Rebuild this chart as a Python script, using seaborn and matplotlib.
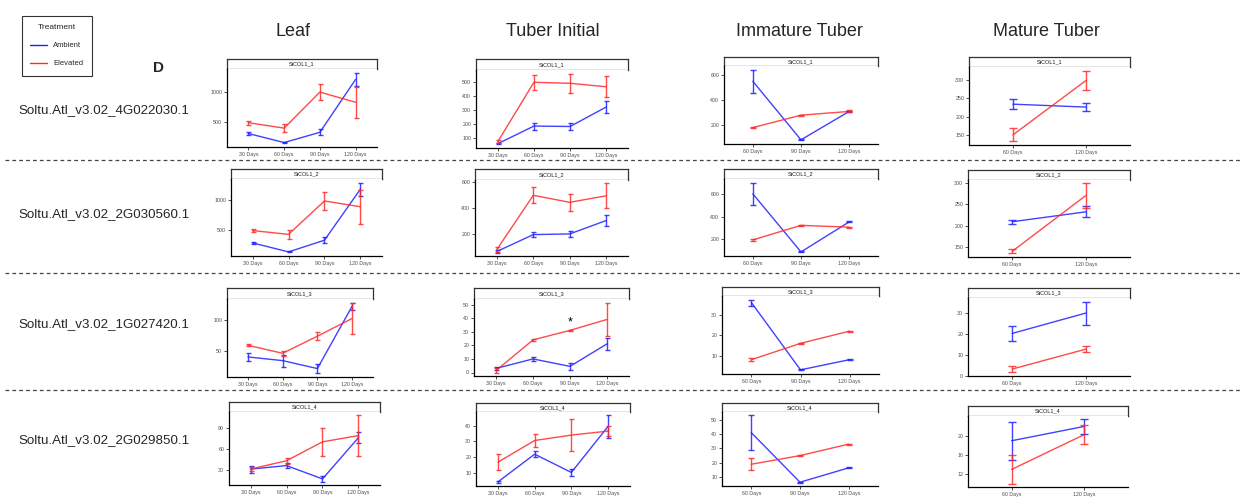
import numpy as np
import pandas as pd
import matplotlib.pyplot as plt
from matplotlib.lines import Line2D
import seaborn as sns

# ---- data -------------------------------------------------------------
tissues = ["Leaf", "Tuber Initial", "Immature Tuber", "Mature Tuber"]
genes = ["Soltu.Atl_v3.02_4G022030.1", "Soltu.Atl_v3.02_2G030560.1",
         "Soltu.Atl_v3.02_1G027420.1", "Soltu.Atl_v3.02_2G029850.1"]
strips = ["StCOL1_1", "StCOL1_2", "StCOL1_3", "StCOL1_4"]
treatments = ["Ambient", "Elevated"]

leaf_days = ["30 Days", "60 Days", "90 Days", "120 Days"]
leaf_amb = [[310, 160, 330, 1210], [285, 135, 330, 1180], [40, 34, 21, 123], [31, 36, 17, 76]]
leaf_amb_se = [[20, 15, 50, 115], [15, 10, 55, 110], [6, 10, 8, 6], [5, 4, 4, 8]]
leaf_elev = [[490, 400, 1000, 830], [490, 427, 983, 886], [59, 46, 74, 103], [31, 43, 70, 79]]
leaf_elev_se = [[30, 70, 140, 260], [25, 70, 150, 280], [1.5, 4, 7, 26], [3, 4, 20, 29]]
leaf_yticks = [[500, 1000], [500, 1000], [50, 100], [30, 60, 90]]

ti_days = ["30 Days", "60 Days", "90 Days", "120 Days"]
ti_amb = [[56, 183, 180, 320], [65, 195, 200, 303], [3, 10, 4.5, 21], [4.6, 22, 10.5, 39.4]]
ti_amb_se = [[5, 25, 25, 45], [8, 20, 25, 40], [1, 1.5, 2.5, 4.5], [0.5, 2, 2, 7]]
ti_elev = [[70, 497, 490, 465], [80, 497, 443, 493], [1.5, 24, 31, 39], [17, 30.6, 34, 36.5]]
ti_elev_se = [[12, 55, 70, 75], [18, 60, 65, 95], [1.5, 1, 0.5, 12.5], [5, 4, 10, 3]]
ti_yticks = [[100, 200, 300, 400, 500], [200, 400, 600], [0, 10, 20, 30, 40, 50], [10, 20, 30, 40]]

im_days = ["60 Days", "90 Days", "120 Days"]
im_amb = [[553, 81, 310], [600, 89, 353], [36, 3, 8], [41, 6.5, 16.5]]
im_amb_se = [[95, 5, 5], [100, 5, 5], [1.5, 0.3, 0.3], [12, 0.3, 0.3]]
im_elev = [[180, 280, 310], [195, 323, 307], [8, 16, 22], [19, 25, 33]]
im_elev_se = [[5, 5, 8], [8, 5, 5], [0.8, 0.3, 0.3], [4, 0.3, 0.3]]
im_yticks = [[200, 400, 600], [200, 400, 600], [10, 20, 30], [10, 20, 30, 40, 50]]

mt_days = ["60 Days", "120 Days"]
mt_amb = [[234, 226], [209, 232], [20.3, 30], [19, 22]]
mt_amb_se = [[13, 10], [5, 13], [3.5, 5.5], [4, 1.5]]
mt_elev = [[150, 299], [140, 270], [3.3, 12.8], [13, 20.3]]
mt_elev_se = [[18, 27], [5, 28], [1.5, 1.3], [3, 2]]
mt_yticks = [[150, 200, 250, 300], [150, 200, 250, 300], [0, 10, 20, 30], [12, 16, 20]]

# significance mark: (gene row, tissue col, day, y)
signif = [(2, 1, "90 Days", 37)]

tissue_data = [
    (leaf_days, leaf_amb, leaf_amb_se, leaf_elev, leaf_elev_se, leaf_yticks),
    (ti_days, ti_amb, ti_amb_se, ti_elev, ti_elev_se, ti_yticks),
    (im_days, im_amb, im_amb_se, im_elev, im_elev_se, im_yticks),
    (mt_days, mt_amb, mt_amb_se, mt_elev, mt_elev_se, mt_yticks),
]

# ---- layout (pixels: left, strip top, panel top, right, bottom) -------
W, H = 1243, 499
boxes = [
    [(227, 59, 69, 377, 147), (476, 59, 70, 628, 148), (724, 57, 66, 878, 144), (969, 57, 67, 1130, 145)],
    [(231, 169, 179, 382, 256), (475, 169, 180, 628, 256), (724, 169, 179, 878, 256), (968, 170, 180, 1130, 257)],
    [(227, 288, 299, 373, 377), (474, 288, 299, 629, 376), (722, 287, 296, 879, 374), (968, 288, 298, 1130, 376)],
    [(229, 402, 412, 380, 485), (476, 403, 412, 630, 486), (722, 403, 412, 878, 486), (968, 406, 416, 1128, 487)],
]
col_title_x = [293, 553, 799, 1046]
row_label_y = [110, 214, 324, 440]
sep_y = [160, 273, 390]

pal = {"Ambient": "#2020ff", "Elevated": "#ff2a2a"}

sns.set_theme(style="white")
plt.rcParams["font.family"] = ["Liberation Sans", "DejaVu Sans"]

fig = plt.figure(figsize=(W / 100, H / 100), dpi=100)


def px_axes(l, t, r, b):
    return fig.add_axes([l / W, 1 - b / H, (r - l) / W, (b - t) / H])


for gi in range(4):
    for ti in range(4):
        days, amb, amb_se, elev, elev_se, yticks = tissue_data[ti]
        l, st, t, r, b = boxes[gi][ti]
        n = len(days)
        spacing = (r - l) / (n + 0.2)
        cap = max(1.8, 0.06 * spacing * 0.72)

        # strip
        sax = px_axes(l, st, r, t)
        sax.set_xticks([]); sax.set_yticks([])
        sax.set_facecolor("white")
        for s in sax.spines.values():
            s.set_color("#333333"); s.set_linewidth(0.9); s.set_visible(True)
        sax.text(0.5, 0.5, strips[gi], ha="center", va="center", fontsize=4, color="#1a1a1a")

        ax = px_axes(l, t, r, b)
        df = pd.DataFrame({
            "day": days * 2,
            "value": amb[gi] + elev[gi],
            "se": amb_se[gi] + elev_se[gi],
            "Treatment": ["Ambient"] * n + ["Elevated"] * n,
        })
        sns.lineplot(data=df, x="day", y="value", hue="Treatment", palette=pal,
                     sort=False, errorbar=None, legend=False, lw=1.0, alpha=0.85, ax=ax)
        for tr in treatments:
            sub = df[df["Treatment"] == tr]
            ax.errorbar(sub["day"], sub["value"], yerr=sub["se"], fmt="none",
                        ecolor=pal[tr], elinewidth=1.0, capsize=cap, capthick=1.0, alpha=0.85)

        lo = (df["value"] - df["se"]).min()
        hi = (df["value"] + df["se"]).max()
        pad = 0.05 * (hi - lo)
        ax.set_ylim(lo - pad, hi + pad)
        ax.set_xlim(-0.6, n - 0.4)
        ax.set_yticks(yticks[gi])
        ax.set_xlabel(""); ax.set_ylabel("")
        sns.despine(ax=ax)
        for s in ["left", "bottom"]:
            ax.spines[s].set_color("black"); ax.spines[s].set_linewidth(0.9)
        ax.tick_params(length=2, width=0.6, labelsize=3.8, labelcolor="#4d4d4d",
                       pad=1.5, left=True, bottom=True, color="#333333")

        for (sg, st_, sday, sy) in signif:
            if sg == gi and st_ == ti:
                ax.text(days.index(sday), sy, "*", ha="center", va="center",
                        fontsize=9, color="black")

# column titles and row labels
for ti, name in enumerate(tissues):
    fig.text(col_title_x[ti] / W, 1 - 31 / H, name, ha="center", va="center", fontsize=13)
for gi, name in enumerate(genes):
    fig.text(104 / W, 1 - row_label_y[gi] / H, name, ha="center", va="center", fontsize=9.6)
fig.text(158 / W, 1 - 68 / H, "D", ha="center", va="center", fontsize=11, fontweight="bold")

for y in sep_y:
    fig.add_artist(Line2D([5 / W, 1], [1 - y / H] * 2, transform=fig.transFigure,
                          ls=(0, (3, 2.5)), color="#444444", lw=0.9))

handles = [Line2D([], [], color=pal[t], lw=1) for t in treatments]
leg = fig.legend(handles, treatments, title="Treatment", loc="upper left",
                 bbox_to_anchor=(18 / W, 1 - 12 / H), fontsize=5.5, title_fontsize=6,
                 frameon=True, fancybox=False, edgecolor="black", handlelength=2.2,
                 borderpad=1.1, labelspacing=1.4, handletextpad=0.8)
leg.get_frame().set_linewidth(0.8)

fig.savefig("out.png", dpi=100)
